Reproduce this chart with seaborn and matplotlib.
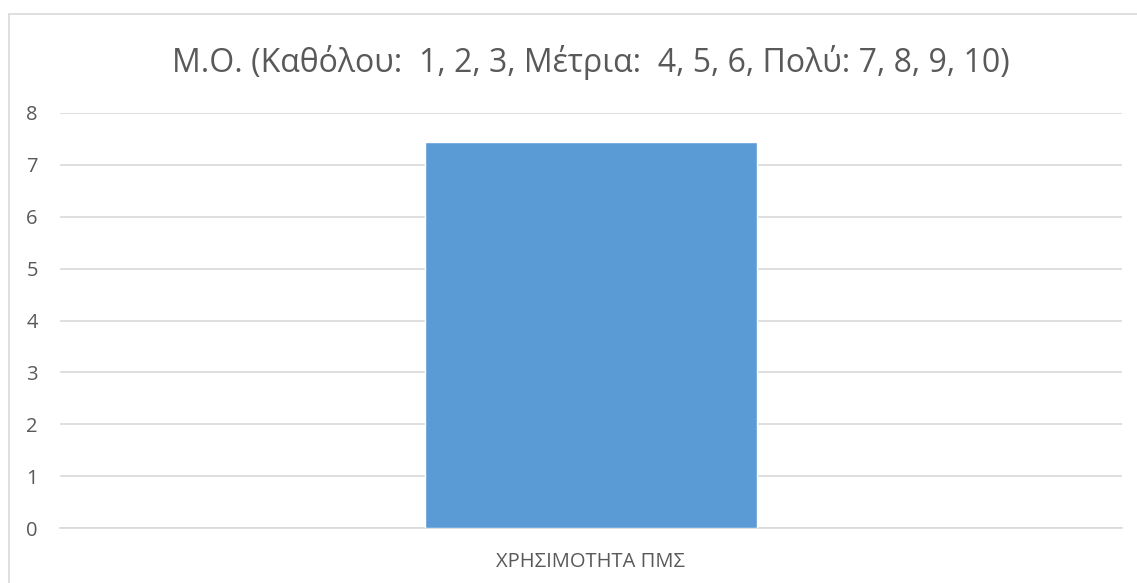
import pandas as pd
import seaborn as sns
import matplotlib
matplotlib.use("Agg")
import matplotlib.pyplot as plt
from matplotlib.patches import Rectangle

categories = ["ΧΡΗΣΙΜΟΤΗΤΑ ΠΜΣ"]
values = [7.44]
title = "Μ.Ο. (Καθόλου:  1, 2, 3, Μέτρια:  4, 5, 6, Πολύ: 7, 8, 9, 10)"

sns.set_theme(style="white")
plt.rcParams['font.family'] = ['Open Sans', 'DejaVu Sans']

W, H = 1137, 583
fig = plt.figure(figsize=(W / 100, H / 100), dpi=100)
ax = fig.add_axes([60 / W, 55 / H, (1122 - 60) / W, (528 - 113) / H])

# outer chart border
fig.patches.append(Rectangle((9 / W, -0.05), 1.1, (H - 14) / H + 0.05,
                             transform=fig.transFigure, fill=False,
                             edgecolor="#d9d9d9", linewidth=1.2))

df = pd.DataFrame({"cat": categories, "val": values})
sns.barplot(data=df, x="cat", y="val", color="#5b9bd5", saturation=1,
            width=0.313, ax=ax, zorder=3)

ax.set_ylim(0, 8)
ax.set_xlim(-0.5, 0.5)
ax.set_yticks(range(0, 9))
ax.yaxis.grid(True, color="#d9d9d9", linewidth=1.2)
ax.set_axisbelow(True)
for s in ax.spines.values():
    s.set_visible(False)
ax.spines["bottom"].set_visible(True)
ax.spines["bottom"].set_color("#d9d9d9")
ax.spines["bottom"].set_linewidth(1.2)
ax.set_xlabel("")
ax.set_ylabel("")
ax.tick_params(axis="y", length=0, pad=16, labelsize=14.5, labelcolor="#595959")
ax.tick_params(axis="x", length=0, pad=17, labelsize=14.5, labelcolor="#595959")

fig.text((60 + 1122) / 2 / W, 1 - 62 / H, title, ha="center", va="center",
         fontsize=23, color="#595959")

fig.savefig("out.png", dpi=100, facecolor="white")
